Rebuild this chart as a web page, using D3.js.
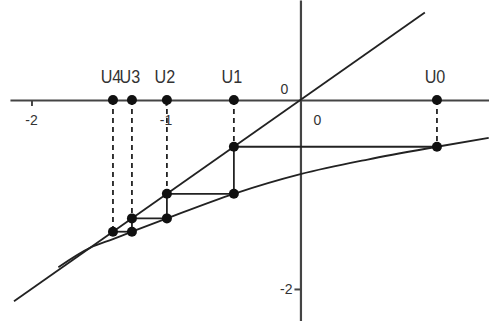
<!DOCTYPE html>
<html><head><meta charset="utf-8">
<script src="https://cdn.jsdelivr.net/npm/d3@7"></script>
<style>
html,body{margin:0;padding:0;background:#fff;}
svg{display:block;}
text{font-family:"Liberation Sans",Arial,sans-serif;fill:#333;}
</style></head>
<body>
<script>
// sequence terms U0..U4
const seqLabels = ["U0","U1","U2","U3","U4"];
const seqValues = [1.015, -0.495, -0.993, -1.253, -1.394];
// curve y = f(x) samples
const curveX = [-1.80, -1.565, -1.394, -1.253, -0.993, -0.495, 0, 0.5, 1.015, 1.40];
const curveY = [-1.77, -1.565, -1.472, -1.394, -1.253, -0.993, -0.785, -0.63, -0.495, -0.40];
// line y = x
const diagX = [-2.13, 0.925];
// ticks
const xTickValues = [-2, -1];
const xTickLabels = ["-2", "-1"];
const yTickValues = [-2];
const yTickLabels = ["-2"];
const originLabels = ["0", "0"];

const W = 489, H = 321;
const x = d3.scaleLinear().domain([-2.234, 1.402]).range([0, W]);
const y = d3.scaleLinear().domain([1.058, -2.339]).range([0, H]);

const svg = d3.select("body").append("svg").attr("width", W).attr("height", H);
const ink = "#222";
const sw = 1.8;

// axes
const gx = svg.append("g").attr("transform", `translate(0,${y(0)})`)
  .call(d3.axisBottom(x.copy().domain([-2.16, 1.402]).range([x(-2.16), W])).tickValues(xTickValues).tickSize(6).tickSizeOuter(0).tickFormat(""));
gx.select(".domain").attr("stroke", "#444").attr("stroke-width", 2.2);
gx.selectAll(".tick line").attr("stroke", "#444").attr("stroke-width", 2);

const gy = svg.append("g").attr("transform", `translate(${x(0)},0)`)
  .call(d3.axisLeft(y.copy()).tickValues(yTickValues).tickSize(6).tickSizeOuter(0).tickFormat(""));
gy.select(".domain").attr("stroke", "#444").attr("stroke-width", 2.2);
gy.selectAll(".tick line").attr("stroke", "#444").attr("stroke-width", 2);

// tick labels
svg.selectAll(".xtl").data(xTickValues).enter().append("text")
  .attr("x", d => x(d)).attr("y", y(0) + 25)
  .attr("text-anchor", "middle").attr("font-size", 14)
  .text((d, i) => xTickLabels[i]);
svg.selectAll(".ytl").data(yTickValues).enter().append("text")
  .attr("x", x(0) - 8).attr("y", d => y(d) + 5)
  .attr("text-anchor", "end").attr("font-size", 14)
  .text((d, i) => yTickLabels[i]);
svg.append("text").attr("x", x(0) - 16).attr("y", y(0) - 6).attr("text-anchor", "middle").attr("font-size", 14).text(originLabels[0]);
svg.append("text").attr("x", x(0) + 17).attr("y", y(0) + 25).attr("text-anchor", "middle").attr("font-size", 14).text(originLabels[1]);

// diagonal y = x
svg.append("line")
  .attr("x1", x(diagX[0])).attr("y1", y(diagX[0]))
  .attr("x2", x(diagX[1])).attr("y2", y(diagX[1]))
  .attr("stroke", ink).attr("stroke-width", sw);

// curve
const pts = curveX.map((v, i) => [v, curveY[i]]);
svg.append("path").datum(pts)
  .attr("d", d3.line().x(d => x(d[0])).y(d => y(d[1])).curve(d3.curveMonotoneX))
  .attr("fill", "none").attr("stroke", ink).attr("stroke-width", sw);

// cobweb
const n = seqValues.length;
seqValues.forEach((u, i) => {
  const yEnd = i === 0 ? seqValues[1] : u;
  svg.append("line").attr("x1", x(u)).attr("x2", x(u)).attr("y1", y(0)).attr("y2", y(yEnd))
    .attr("stroke", ink).attr("stroke-width", sw).attr("stroke-dasharray", "5,4");
});
for (let i = 1; i < n; i++) {
  svg.append("line").attr("x1", x(seqValues[i - 1])).attr("x2", x(seqValues[i]))
    .attr("y1", y(seqValues[i])).attr("y2", y(seqValues[i]))
    .attr("stroke", ink).attr("stroke-width", sw);
}
for (let i = 1; i < n - 1; i++) {
  svg.append("line").attr("x1", x(seqValues[i])).attr("x2", x(seqValues[i]))
    .attr("y1", y(seqValues[i])).attr("y2", y(seqValues[i + 1]))
    .attr("stroke", ink).attr("stroke-width", sw);
}
const dots = [];
seqValues.forEach((u, i) => {
  dots.push([u, 0]);
  if (i < n - 1) dots.push([u, seqValues[i + 1]]);
  if (i > 0) dots.push([u, u]);
});
svg.selectAll(".dot").data(dots).enter().append("circle")
  .attr("cx", d => x(d[0])).attr("cy", d => y(d[1])).attr("r", 5)
  .attr("fill", "#111");

// labels
svg.selectAll(".ul").data(seqValues).enter().append("text")
  .attr("transform", d => `translate(${x(d) - 2},${y(0) - 17}) scale(0.85,1)`)
  .attr("text-anchor", "middle").attr("font-size", 19)
  .text((d, i) => seqLabels[i]);
</script>
</body></html>
